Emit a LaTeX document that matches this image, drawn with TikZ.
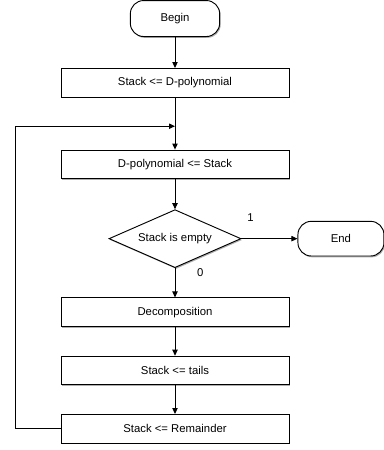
\documentclass[tikz,border=0pt]{standalone}
\usepackage{fontspec}
\setsansfont{Liberation Sans}
\usetikzlibrary{calc,arrows.meta,positioning,shapes.geometric,shadows}
\tikzset{
    every node/.style={font=\sffamily\fontsize{8.5}{10}\selectfont},
    soft shadow/.style={drop shadow={shadow xshift=0.8pt,shadow yshift=-1pt,opacity=0.45,fill=black!70}},
    proc node/.style={draw,fill=white,line width=0.7pt,minimum width=171pt,minimum height=21.5pt,soft shadow},
    term node/.style={draw,fill=white,line width=0.7pt,rounded corners=10pt,minimum width=67pt,minimum height=27pt,soft shadow},
    test node/.style={draw,fill=white,line width=0.7pt,diamond,aspect=2.3,minimum width=99pt,minimum height=43.5pt,inner sep=1pt,soft shadow}
}

\begin{document}
\begin{tikzpicture}[->,>={Triangle[length=4.5pt,width=4pt]},line width=0.7pt,node distance=21.5pt]
    \useasboundingbox (0,0) rectangle (288pt,-337.5pt);

        \node[term node] (begin) at (131.25pt,-13.9pt) {Begin};
        \node[proc node] (push) [below=23.25pt of begin] {Stack <= D-polynomial};
        \node[proc node] (pop) [below=39pt of push] {D-polynomial <= Stack};
        \node[test node] (test) [below=22.5pt of pop] {Stack is empty};
        \node[term node,minimum width=64.5pt,minimum height=26pt] (end) [right=42pt of test] {End};
        \node[proc node] (decomp) [below=22pt of test] {Decomposition};
        \node[proc node] (tails) [below =of decomp] {Stack <= tails};
        \node[proc node] (rem) [below =of tails] {Stack <= Remainder};
        \coordinate (join) at ($(push.south)!0.55!(pop.north)$);

        \draw (begin) -- (push);
        \draw (push) -- (pop);
        \draw (pop) -- (test);
        \draw (test.east) -- node[pos=0.16,above=9pt] {1} (end);
        \draw (test.south) -- node[pos=0.15,right=13pt] {0} (decomp);
        \draw (decomp) -- (tails);
        \draw (tails) -- (rem);
        \draw (rem.west) -- ++(-33.75pt,0) |- (join);
      \end{tikzpicture}
\end{document}
